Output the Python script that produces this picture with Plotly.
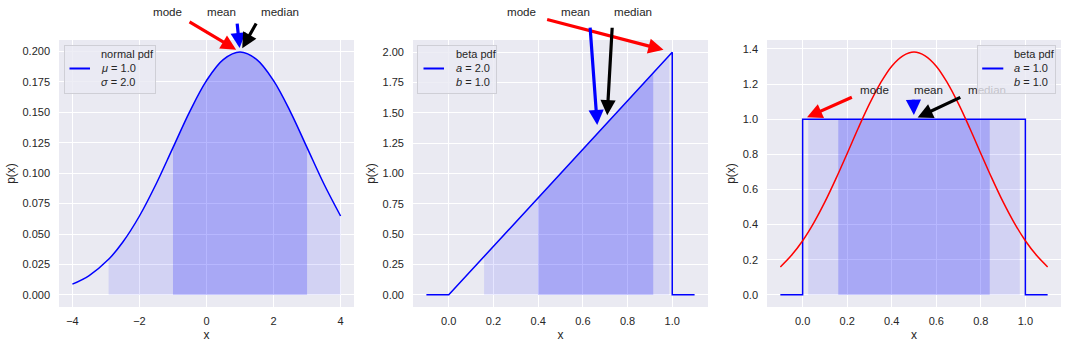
import plotly.graph_objects as go

W, H = 1068, 348

# ---------------- data ----------------
# panel 1: normal pdf (mu=1, sigma=2)
norm_x = [-4.0, -3.5, -2.92, -2.5, -2.0, -1.5, -1.0, -0.5, 0.0, 0.5, 1.0,
          1.5, 2.0, 2.5, 3.0, 3.5, 4.0]
norm_p = [0.0088, 0.0159, 0.0292, 0.0432, 0.0648, 0.0913, 0.1210, 0.1506,
          0.1760, 0.1933, 0.1995, 0.1933, 0.1760, 0.1506, 0.1210, 0.0913, 0.0648]
norm_light = (-2.92, 4.0)   # 95% band
norm_dark = (-1.0, 3.0)     # 68% band
norm_stats = {"mode": (1.0, 0.1995), "mean": (1.0, 0.1995), "median": (1.0, 0.1995)}

# panel 2: beta pdf (a=2, b=1)
beta_x = [-0.1, 0.0, 1.0, 1.0, 1.1]
beta_p = [0.0, 0.0, 2.0, 0.0, 0.0]
beta_light_x = [0.158, 0.987]
beta_light_p = [0.316, 1.974]
beta_dark_x = [0.40, 0.915]
beta_dark_p = [0.80, 1.83]
beta_stats = {"mode": (1.0, 2.0), "mean": (0.667, 1.333), "median": (0.707, 1.414)}

# panel 3: beta pdf (a=1, b=1) and normal approximation
unif_x = [-0.1, 0.0, 0.0, 1.0, 1.0, 1.1]
unif_p = [0.0, 0.0, 1.0, 1.0, 0.0, 0.0]
unif_light_x = [0.025, 0.975]
unif_light_p = [1.0, 1.0]
unif_dark_x = [0.16, 0.84]
unif_dark_p = [1.0, 1.0]
approx_x = [-0.1, -0.05, 0.0, 0.05, 0.1, 0.15, 0.2, 0.25, 0.3, 0.35, 0.4, 0.45, 0.5,
            0.55, 0.6, 0.65, 0.7, 0.75, 0.8, 0.85, 0.9, 0.95, 1.0, 1.05, 1.1]
approx_p = [0.159, 0.225, 0.308, 0.410, 0.529, 0.663, 0.805, 0.950, 1.087, 1.207,
            1.302, 1.361, 1.382, 1.361, 1.302, 1.207, 1.087, 0.950, 0.805, 0.663,
            0.529, 0.410, 0.308, 0.225, 0.159]
unif_stats = {"mode": (0.0, 1.0), "mean": (0.5, 1.0), "median": (0.5, 1.0)}

legend_labels = [
    ["normal pdf", "<i>μ</i> = 1.0", "<i>σ</i> = 2.0"],
    ["beta pdf", "<i>a</i> = 2.0", "<i>b</i> = 1.0"],
    ["beta pdf", "<i>a</i> = 1.0", "<i>b</i> = 1.0"],
]

# ---------------- style ----------------
BG = "#EAEAF2"
TXT = "#262626"
FONT = "Liberation Sans, Arial, sans-serif"
LIGHT = "rgba(0,0,255,0.1)"
DARK = "rgba(0,0,255,0.2)"

fig = go.Figure()

# panel 1 fills + curve
i0 = norm_x.index(norm_light[0]); i1 = norm_x.index(norm_light[1])
j0 = norm_x.index(norm_dark[0]); j1 = norm_x.index(norm_dark[1])
fig.add_trace(go.Scatter(x=norm_x[i0:i1 + 1], y=norm_p[i0:i1 + 1], fill="tozeroy",
                         fillcolor=LIGHT, mode="lines", line=dict(width=0, shape="spline"),
                         xaxis="x", yaxis="y", hoverinfo="skip"))
fig.add_trace(go.Scatter(x=norm_x[j0:j1 + 1], y=norm_p[j0:j1 + 1], fill="tozeroy",
                         fillcolor=DARK, mode="lines", line=dict(width=0, shape="spline"),
                         xaxis="x", yaxis="y", hoverinfo="skip"))
fig.add_trace(go.Scatter(x=norm_x, y=norm_p, mode="lines",
                         line=dict(color="blue", width=1.5, shape="spline"),
                         xaxis="x", yaxis="y"))

# panel 2
fig.add_trace(go.Scatter(x=beta_light_x, y=beta_light_p, fill="tozeroy", fillcolor=LIGHT,
                         mode="lines", line=dict(width=0), xaxis="x2", yaxis="y2"))
fig.add_trace(go.Scatter(x=beta_dark_x, y=beta_dark_p, fill="tozeroy", fillcolor=DARK,
                         mode="lines", line=dict(width=0), xaxis="x2", yaxis="y2"))
fig.add_trace(go.Scatter(x=beta_x, y=beta_p, mode="lines",
                         line=dict(color="blue", width=1.5), xaxis="x2", yaxis="y2"))

# panel 3
fig.add_trace(go.Scatter(x=unif_light_x, y=unif_light_p, fill="tozeroy", fillcolor=LIGHT,
                         mode="lines", line=dict(width=0), xaxis="x3", yaxis="y3"))
fig.add_trace(go.Scatter(x=unif_dark_x, y=unif_dark_p, fill="tozeroy", fillcolor=DARK,
                         mode="lines", line=dict(width=0), xaxis="x3", yaxis="y3"))
fig.add_trace(go.Scatter(x=unif_x, y=unif_p, mode="lines",
                         line=dict(color="blue", width=1.5), xaxis="x3", yaxis="y3"))
fig.add_trace(go.Scatter(x=approx_x, y=approx_p, mode="lines",
                         line=dict(color="red", width=1.5, shape="spline"),
                         xaxis="x3", yaxis="y3"))

# ---------------- axes ----------------
top_px, bot_px = 40, 307
ydom = [1 - bot_px / H, 1 - top_px / H]
panels = [
    dict(dom=(59, 354), xr=[-4.4, 4.4], yr=[-0.00997, 0.2094], xt=[-4, -2, 0, 2, 4],
         yt=[0, 0.025, 0.05, 0.075, 0.1, 0.125, 0.15, 0.175, 0.2], xf="d", yf=".3f"),
    dict(dom=(413, 708), xr=[-0.16, 1.16], yr=[-0.1, 2.1], xt=[0, 0.2, 0.4, 0.6, 0.8, 1.0],
         yt=[0, 0.25, 0.5, 0.75, 1.0, 1.25, 1.5, 1.75, 2.0], xf=".1f", yf=".2f"),
    dict(dom=(767, 1061), xr=[-0.16, 1.16], yr=[-0.0691, 1.451], xt=[0, 0.2, 0.4, 0.6, 0.8, 1.0],
         yt=[0, 0.2, 0.4, 0.6, 0.8, 1.0, 1.2, 1.4], xf=".1f", yf=".1f"),
]
axfont = dict(family=FONT, size=11, color=TXT)
for k, p in enumerate(panels):
    s = "" if k == 0 else str(k + 1)
    fig.layout["xaxis" + s] = dict(
        domain=[p["dom"][0] / W, p["dom"][1] / W], range=p["xr"], anchor="y" + s,
        tickvals=p["xt"], tickformat=p["xf"], showgrid=True, gridcolor="white", gridwidth=1.2,
        zeroline=False, showline=False, ticks="", tickfont=axfont, ticklabelstandoff=6,
        title=dict(text="x", font=dict(family=FONT, size=12, color=TXT), standoff=4))
    fig.layout["yaxis" + s] = dict(
        domain=ydom, range=p["yr"], anchor="x" + s,
        tickvals=p["yt"], tickformat=p["yf"], showgrid=True, gridcolor="white", gridwidth=1.2,
        zeroline=False, showline=False, ticks="", tickfont=axfont, ticklabelstandoff=8,
        title=dict(text="p(x)", font=dict(family=FONT, size=12, color=TXT), standoff=4))

annotations = []

# ---------------- arrows ----------------
arrow_specs = [
    ("", norm_stats, {"mode": (-52, -31, 4.5), "mean": (-3, -30, 4), "median": (17, -30, 4.5)}),
    ("2", beta_stats, {"mode": (-126.6, -33, 9), "mean": (-7.8, -107, 8), "median": (5.5, -97, 8)}),
    ("3", unif_stats, {"mode": (50.7, -22.6, 4.8), "mean": (-0.6, -21, 4.3), "median": (47.8, -22.6, 4)}),
]
arrow_colors = {"mode": "red", "mean": "blue", "median": "black"}
for s, stats, offs in arrow_specs:
    for name in ["mode", "mean", "median"]:
        xv, yv = stats[name]
        ax, ay, so = offs[name]
        annotations.append(dict(x=xv, y=yv, xref="x" + s, yref="y" + s, ax=ax, ay=ay,
                                axref="pixel", ayref="pixel", text="", showarrow=True,
                                arrowhead=2, arrowsize=0.95, arrowwidth=3.2,
                                arrowcolor=arrow_colors[name], standoff=so))

# ---------------- arrow labels ----------------
label_px = [
    [("mode", 167.5, 12), ("mean", 221.5, 12), ("median", 280, 12)],
    [("mode", 521.5, 12), ("mean", 575.5, 12), ("median", 633, 12)],
    [("mode", 874.3, 89.5), ("mean", 928.3, 89.5), ("median", 987, 89.5)],
]
for row in label_px:
    for t, px, py in row:
        annotations.append(dict(x=px / W, y=1 - py / H, xref="paper", yref="paper", text=t,
                                showarrow=False, xanchor="center", yanchor="middle",
                                font=dict(family=FONT, size=11.6, color=TXT)))

# ---------------- legends ----------------
leg_boxes = [  # (left, top, right, bottom, handle_x0, handle_x1, text_left)
    (64, 45, 156, 94, 68, 90, 99),
    (417, 45, 497, 94, 422, 444, 453.5),
    (976.7, 45, 1056, 94, 980.7, 1003.3, 1011.5),
]
for (l, t, r, b, h0, h1, tl), labels in zip(leg_boxes, legend_labels):
    annotations.append(dict(x=l / W, y=1 - t / H, xref="paper", yref="paper", text=" ",
                            showarrow=False, xanchor="left", yanchor="top",
                            width=r - l - 2, height=b - t - 2, borderpad=0, borderwidth=1,
                            bordercolor="#cfcfd6", bgcolor="rgba(234,234,242,0.8)"))
    annotations.append(dict(x=h1 / W, y=1 - 68.5 / H, xref="paper", yref="paper",
                            ax=-(h1 - h0), ay=0, axref="pixel", ayref="pixel", text="",
                            showarrow=True, arrowhead=0, arrowwidth=1.8, arrowcolor="blue"))
    for lab, py in zip(labels, [53.7, 67.7, 81.7]):
        annotations.append(dict(x=tl / W, y=1 - py / H, xref="paper", yref="paper", text=lab,
                                showarrow=False, xanchor="left", yanchor="middle",
                                font=dict(family=FONT, size=11, color=TXT)))

fig.update_layout(
    width=W, height=H, margin=dict(l=0, r=0, t=0, b=0),
    paper_bgcolor="white", plot_bgcolor=BG, showlegend=False,
    annotations=annotations, font=dict(family=FONT, color=TXT),
)

fig.write_html("out.html")
